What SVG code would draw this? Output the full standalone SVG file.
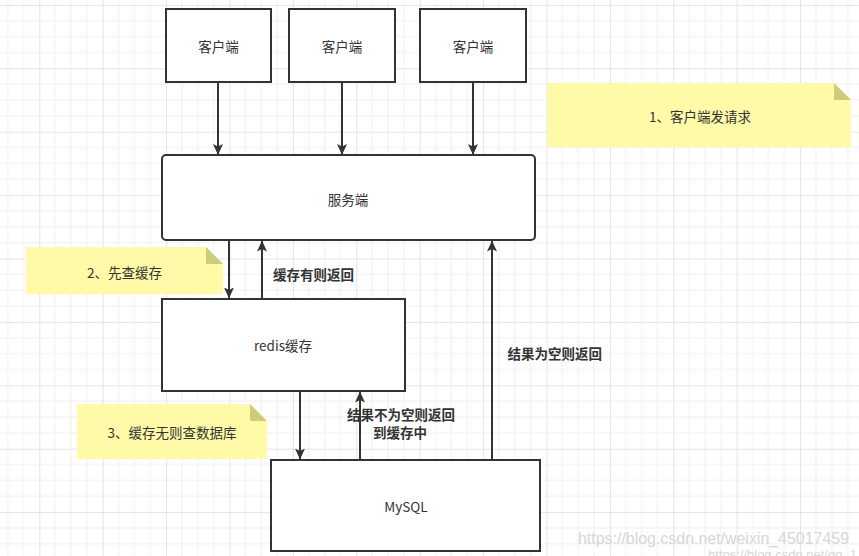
<svg xmlns="http://www.w3.org/2000/svg" width="859" height="556" viewBox="0 0 859 556">
<style>
.box{fill:#ffffff;stroke:#333333;stroke-width:2}
.note{fill:#fffaa8}
.fold{fill:#cfcb7a}
.t{font-family:"Noto Sans CJK SC","Noto Sans",sans-serif;font-size:13.5px;fill:#333333;dominant-baseline:central}
.c{text-anchor:middle}
.b{font-weight:bold}
.edge{stroke:#333333;stroke-width:2;fill:none}
.wm{font-family:"Liberation Sans",Arial,sans-serif;fill:#d6d6d6}
</style>
<defs>
<pattern id="grid" x="-24.1" y="4.9" width="63.4" height="63.4" patternUnits="userSpaceOnUse">
<path d="M15.85 0V63.4M31.7 0V63.4M47.55 0V63.4M0 15.85H63.4M0 31.7H63.4M0 47.55H63.4" stroke="#f0f0f0" stroke-width="1"/>
<path d="M0.5 0V63.4M0 0.5H63.4" stroke="#e4e4e4" stroke-width="1"/>
</pattern>
<marker id="arr" viewBox="0 0 11 10" refX="11" refY="5" markerWidth="5.5" markerHeight="5" markerUnits="strokeWidth" orient="auto">
<path d="M0 0L11 5L0 10L2.5 5Z" fill="#333333"/>
</marker>
</defs>
<rect width="859" height="556" fill="#ffffff"/>
<rect width="859" height="556" fill="url(#grid)"/>

<g id="note1">
<path class="note" d="M547 83H834L851 100V147H547Z"/>
<path class="fold" d="M834 83V100H851Z"/>
<text class="t c" x="700" y="115.5">1、客户端发请求</text>
</g>
<g id="note2">
<path class="note" d="M26 247H206L223 264V294H26Z"/>
<path class="fold" d="M206 247V264H223Z"/>
<text class="t c" x="124.5" y="271.5">2、先查缓存</text>
</g>
<g id="note3">
<path class="note" d="M77 404H250L267 421V459H77Z"/>
<path class="fold" d="M250 404V421H267Z"/>
<text class="t c" x="172" y="432">3、缓存无则查数据库</text>
</g>

<g id="connectors">
<line class="edge" x1="218" y1="83" x2="218" y2="155" marker-end="url(#arr)"/>
<line class="edge" x1="342" y1="83" x2="342" y2="155" marker-end="url(#arr)"/>
<line class="edge" x1="473" y1="83" x2="473" y2="155" marker-end="url(#arr)"/>
<line class="edge" x1="229" y1="241" x2="229" y2="298.5" marker-end="url(#arr)"/>
<line class="edge" x1="262" y1="298" x2="262" y2="240.5" marker-end="url(#arr)"/>
<line class="edge" x1="300" y1="392" x2="300" y2="459.5" marker-end="url(#arr)"/>
<line class="edge" x1="360" y1="459" x2="360" y2="391.5" marker-end="url(#arr)"/>
<line class="edge" x1="492" y1="459" x2="492" y2="240.5" marker-end="url(#arr)"/>
<text class="t b" x="273" y="273.5">缓存有则返回</text>
<text class="t b" x="507.5" y="352.5">结果为空则返回</text>
<text class="t b c" x="401" y="414">结果不为空则返回<tspan x="400" dy="17.5">到缓存中</tspan></text>
</g>

<g id="client1">
<rect class="box" x="166" y="9" width="105" height="73"/>
<text class="t c" x="218.5" y="46">客户端</text>
</g>
<g id="client2">
<rect class="box" x="289" y="9" width="106" height="73"/>
<text class="t c" x="342" y="46">客户端</text>
</g>
<g id="client3">
<rect class="box" x="420" y="9" width="106" height="73"/>
<text class="t c" x="473" y="46">客户端</text>
</g>
<g id="server">
<rect class="box" x="162" y="155" width="373" height="85" rx="4"/>
<text class="t c" x="348" y="199">服务端</text>
</g>
<g id="redis">
<rect class="box" x="162" y="299" width="243" height="92"/>
<text class="t c" x="283" y="345">redis缓存</text>
</g>
<g id="mysql">
<rect class="box" x="271" y="460" width="269" height="91"/>
<text class="t c" x="406" y="506">MySQL</text>
</g>

<text class="wm" x="578" y="543.5" font-size="16" textLength="271" lengthAdjust="spacingAndGlyphs">https://blog.csdn.net/weixin_45017459</text>
<text class="wm" x="708" y="558.5" font-size="13">https://blog.csdn.net/qq_1</text>
</svg>
